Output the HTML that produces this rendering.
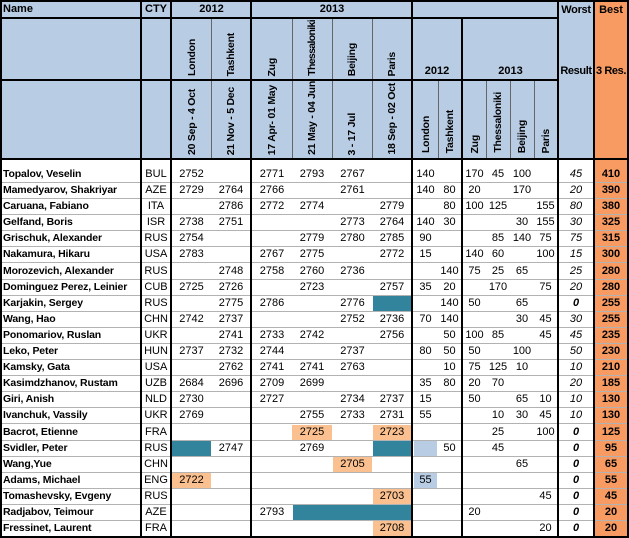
<!DOCTYPE html>
<html><head><meta charset="utf-8">
<style>
body{margin:0;background:#fff}
#w{position:relative;width:629px;height:538px;overflow:hidden;font-family:"Liberation Sans",Arial,sans-serif;font-size:11px;color:#000;background:#fff}
#w div{position:absolute}
.k{background:#000}
.g{background:#666;width:1px}
.h{font-weight:bold;text-align:center;line-height:18px;height:18px;white-space:nowrap}
.v{display:flex;align-items:flex-end;justify-content:center;font-weight:bold;font-size:10.5px;letter-spacing:-0.25px;box-sizing:border-box;padding-bottom:4px}
.v span{writing-mode:vertical-rl;transform:rotate(180deg);white-space:nowrap;line-height:12px}
.r{left:0;width:629px;height:16.1px;border-bottom:1px solid #b2b2b2;box-sizing:border-box}
.r span{position:absolute;bottom:0;height:15px;line-height:15px;text-align:center;white-space:nowrap}
.r .n{left:3px;text-align:left;font-weight:bold;font-size:10.5px;letter-spacing:-0.15px}
.cty{left:142px;width:28px}
.e0{left:172px;width:39px}
.e1{left:211px;width:40px}
.e2{left:252px;width:40px}
.e3{left:292px;width:40px}
.e4{left:333px;width:39px}
.e5{left:373px;width:38px}
.p0{left:413px;width:25px}
.p1{left:438px;width:23px}
.p2{left:463px;width:23px}
.p3{left:486px;width:24px}
.p4{left:510px;width:24px}
.p5{left:534px;width:23px}
.wr{left:559px;width:34px;font-style:italic}
.z{font-weight:bold}
.b{left:595px;width:32px;font-weight:bold}
.o{background:#fac08f}
.t{background:#31849b}
.l{background:#b8cce4}
</style></head><body>
<div id="w">
<!-- backgrounds -->
<div style="left:0;top:0;width:594px;height:159px;background:#b8cce4"></div>
<div style="left:594px;top:0;width:34px;height:537px;background:#f79b62"></div>

<!-- header text -->
<div class="h" style="left:3px;top:0;text-align:left">Name</div>
<div class="h" style="left:142px;top:0;width:28px">CTY</div>
<div class="h" style="left:172px;top:0;width:79px">2012</div>
<div class="h" style="left:252px;top:0;width:160px">2013</div>
<div class="h" style="left:559px;top:1px;width:34px;letter-spacing:-0.3px">Worst</div>
<div class="h" style="left:559px;top:62px;width:34px;letter-spacing:-0.4px">Result</div>
<div class="h" style="left:595px;top:1px;width:32px">Best</div>
<div class="h" style="left:595px;top:62px;width:32px;letter-spacing:-0.4px">3 Res.</div>
<div class="h" style="left:413px;top:62px;width:48px">2012</div>
<div class="h" style="left:463px;top:62px;width:95px">2013</div>

<!-- rotated city names row 2 -->
<div class="v" style="left:172px;top:18px;width:39px;height:62px"><span>London</span></div>
<div class="v" style="left:211px;top:18px;width:40px;height:62px"><span>Tashkent</span></div>
<div class="v" style="left:252px;top:18px;width:40px;height:62px"><span>Zug</span></div>
<div class="v" style="left:292px;top:18px;width:40px;height:62px"><span style="letter-spacing:-0.65px">Thessaloniki</span></div>
<div class="v" style="left:332px;top:18px;width:40px;height:62px"><span>Beijing</span></div>
<div class="v" style="left:372px;top:18px;width:40px;height:62px"><span>Paris</span></div>
<!-- dates row 3 -->
<div class="v" style="left:172px;top:80px;width:39px;height:79px"><span>20 Sep - 4 Oct</span></div>
<div class="v" style="left:211px;top:80px;width:40px;height:79px"><span>21 Nov - 5 Dec</span></div>
<div class="v" style="left:252px;top:80px;width:40px;height:79px"><span>17 Apr- 01 May</span></div>
<div class="v" style="left:292px;top:80px;width:40px;height:79px"><span>21 May - 04 Jun</span></div>
<div class="v" style="left:332px;top:80px;width:40px;height:79px"><span>3 - 17 Jul</span></div>
<div class="v" style="left:372px;top:80px;width:40px;height:79px"><span>18 Sep - 02 Oct</span></div>
<!-- points city names row 3 -->
<div class="v" style="left:413px;top:80px;width:25px;height:79px;padding-bottom:6px"><span>London</span></div>
<div class="v" style="left:438px;top:80px;width:23px;height:79px;padding-bottom:6px"><span>Tashkent</span></div>
<div class="v" style="left:463px;top:80px;width:23px;height:79px;padding-bottom:6px"><span>Zug</span></div>
<div class="v" style="left:486px;top:80px;width:24px;height:79px;padding-bottom:6px"><span>Thessaloniki</span></div>
<div class="v" style="left:510px;top:80px;width:24px;height:79px;padding-bottom:6px"><span>Beijing</span></div>
<div class="v" style="left:534px;top:80px;width:24px;height:79px;padding-bottom:6px"><span>Paris</span></div>

<!-- data rows -->
<div class="r" style="top:159px;height:24px"><span class="n">Topalov, Veselin</span><span class="cty">BUL</span><span class="e0">2752</span><span class="e2">2771</span><span class="e3">2793</span><span class="e4">2767</span><span class="p0">140</span><span class="p2">170</span><span class="p3">45</span><span class="p4">100</span><span class="wr">45</span><span class="b">410</span></div>
<div class="r" style="top:183px"><span class="n">Mamedyarov, Shakriyar</span><span class="cty">AZE</span><span class="e0">2729</span><span class="e1">2764</span><span class="e2">2766</span><span class="e4">2761</span><span class="p0">140</span><span class="p1">80</span><span class="p2">20</span><span class="p4">170</span><span class="wr">20</span><span class="b">390</span></div>
<div class="r" style="top:199.1px"><span class="n">Caruana, Fabiano</span><span class="cty">ITA</span><span class="e1">2786</span><span class="e2">2772</span><span class="e3">2774</span><span class="e5">2779</span><span class="p1">80</span><span class="p2">100</span><span class="p3">125</span><span class="p5">155</span><span class="wr">80</span><span class="b">380</span></div>
<div class="r" style="top:215.2px"><span class="n">Gelfand, Boris</span><span class="cty">ISR</span><span class="e0">2738</span><span class="e1">2751</span><span class="e4">2773</span><span class="e5">2764</span><span class="p0">140</span><span class="p1">30</span><span class="p4">30</span><span class="p5">155</span><span class="wr">30</span><span class="b">325</span></div>
<div class="r" style="top:231.3px"><span class="n">Grischuk, Alexander</span><span class="cty">RUS</span><span class="e0">2754</span><span class="e3">2779</span><span class="e4">2780</span><span class="e5">2785</span><span class="p0">90</span><span class="p3">85</span><span class="p4">140</span><span class="p5">75</span><span class="wr">75</span><span class="b">315</span></div>
<div class="r" style="top:247.4px"><span class="n">Nakamura, Hikaru</span><span class="cty">USA</span><span class="e0">2783</span><span class="e2">2767</span><span class="e3">2775</span><span class="e5">2772</span><span class="p0">15</span><span class="p2">140</span><span class="p3">60</span><span class="p5">100</span><span class="wr">15</span><span class="b">300</span></div>
<div class="r" style="top:263.5px"><span class="n">Morozevich, Alexander</span><span class="cty">RUS</span><span class="e1">2748</span><span class="e2">2758</span><span class="e3">2760</span><span class="e4">2736</span><span class="p1">140</span><span class="p2">75</span><span class="p3">25</span><span class="p4">65</span><span class="wr">25</span><span class="b">280</span></div>
<div class="r" style="top:279.6px"><span class="n">Dominguez Perez, Leinier</span><span class="cty">CUB</span><span class="e0">2725</span><span class="e1">2726</span><span class="e3">2723</span><span class="e5">2757</span><span class="p0">35</span><span class="p1">20</span><span class="p3">170</span><span class="p5">75</span><span class="wr">20</span><span class="b">280</span></div>
<div class="r" style="top:295.7px"><span class="n">Karjakin, Sergey</span><span class="cty">RUS</span><span class="e1">2775</span><span class="e2">2786</span><span class="e4">2776</span><span class="e5 t"></span><span class="p1">140</span><span class="p2">50</span><span class="p4">65</span><span class="wr z">0</span><span class="b">255</span></div>
<div class="r" style="top:311.8px"><span class="n">Wang, Hao</span><span class="cty">CHN</span><span class="e0">2742</span><span class="e1">2737</span><span class="e4">2752</span><span class="e5">2736</span><span class="p0">70</span><span class="p1">140</span><span class="p4">30</span><span class="p5">45</span><span class="wr">30</span><span class="b">255</span></div>
<div class="r" style="top:327.9px"><span class="n">Ponomariov, Ruslan</span><span class="cty">UKR</span><span class="e1">2741</span><span class="e2">2733</span><span class="e3">2742</span><span class="e5">2756</span><span class="p1">50</span><span class="p2">100</span><span class="p3">85</span><span class="p5">45</span><span class="wr">45</span><span class="b">235</span></div>
<div class="r" style="top:344px"><span class="n">Leko, Peter</span><span class="cty">HUN</span><span class="e0">2737</span><span class="e1">2732</span><span class="e2">2744</span><span class="e4">2737</span><span class="p0">80</span><span class="p1">50</span><span class="p2">50</span><span class="p4">100</span><span class="wr">50</span><span class="b">230</span></div>
<div class="r" style="top:360.1px"><span class="n">Kamsky, Gata</span><span class="cty">USA</span><span class="e1">2762</span><span class="e2">2741</span><span class="e3">2741</span><span class="e4">2763</span><span class="p1">10</span><span class="p2">75</span><span class="p3">125</span><span class="p4">10</span><span class="wr">10</span><span class="b">210</span></div>
<div class="r" style="top:376.2px"><span class="n">Kasimdzhanov, Rustam</span><span class="cty">UZB</span><span class="e0">2684</span><span class="e1">2696</span><span class="e2">2709</span><span class="e3">2699</span><span class="p0">35</span><span class="p1">80</span><span class="p2">20</span><span class="p3">70</span><span class="wr">20</span><span class="b">185</span></div>
<div class="r" style="top:392.3px"><span class="n">Giri, Anish</span><span class="cty">NLD</span><span class="e0">2730</span><span class="e2">2727</span><span class="e4">2734</span><span class="e5">2737</span><span class="p0">15</span><span class="p2">50</span><span class="p4">65</span><span class="p5">10</span><span class="wr">10</span><span class="b">130</span></div>
<div class="r" style="top:408.4px"><span class="n">Ivanchuk, Vassily</span><span class="cty">UKR</span><span class="e0">2769</span><span class="e3">2755</span><span class="e4">2733</span><span class="e5">2731</span><span class="p0">55</span><span class="p3">10</span><span class="p4">30</span><span class="p5">45</span><span class="wr">10</span><span class="b">130</span></div>
<div class="r" style="top:424.5px"><span class="n">Bacrot, Etienne</span><span class="cty">FRA</span><span class="e3 o">2725</span><span class="e5 o">2723</span><span class="p3">25</span><span class="p5">100</span><span class="wr z">0</span><span class="b">125</span></div>
<div class="r" style="top:440.6px"><span class="n">Svidler, Peter</span><span class="cty">RUS</span><span class="e0 t"></span><span class="e1">2747</span><span class="e3">2769</span><span class="e5 t"></span><span class="l" style="left:414px;width:23px"></span><span class="p1">50</span><span class="p3">45</span><span class="wr z">0</span><span class="b">95</span></div>
<div class="r" style="top:456.7px"><span class="n">Wang,Yue</span><span class="cty">CHN</span><span class="e4 o">2705</span><span class="p4">65</span><span class="wr z">0</span><span class="b">65</span></div>
<div class="r" style="top:472.8px"><span class="n">Adams, Michael</span><span class="cty">ENG</span><span class="e0 o">2722</span><span class="l" style="left:414px;width:23px">55</span><span class="wr z">0</span><span class="b">55</span></div>
<div class="r" style="top:488.9px"><span class="n">Tomashevsky, Evgeny</span><span class="cty">RUS</span><span class="e5 o">2703</span><span class="p5">45</span><span class="wr z">0</span><span class="b">45</span></div>
<div class="r" style="top:505px"><span class="n">Radjabov, Teimour</span><span class="cty">AZE</span><span class="e2">2793</span><span class="t" style="left:293px;width:118px"></span><span class="p2">20</span><span class="wr z">0</span><span class="b">20</span></div>
<div class="r" style="top:521.1px"><span class="n">Fressinet, Laurent</span><span class="cty">FRA</span><span class="e5 o">2708</span><span class="p5">20</span><span class="wr z">0</span><span class="b">20</span></div>

<!-- gray header lines -->
<div class="g" style="left:211px;top:18px;height:141px"></div>
<div class="g" style="left:292px;top:18px;height:141px"></div>
<div class="g" style="left:332px;top:18px;height:141px"></div>
<div class="g" style="left:372px;top:18px;height:141px"></div>
<div class="g" style="left:438px;top:80px;height:79px"></div>
<div class="g" style="left:486px;top:80px;height:79px"></div>
<div class="g" style="left:510px;top:80px;height:79px"></div>
<div class="g" style="left:534px;top:80px;height:79px"></div>

<!-- black lines -->
<div class="k" style="left:0;top:0;width:629px;height:2px"></div>
<div class="k" style="left:0;top:17px;width:558px;height:2px"></div>
<div class="k" style="left:0;top:79px;width:558px;height:2px"></div>
<div class="k" style="left:0;top:158px;width:629px;height:2px"></div>
<div class="k" style="left:0;top:536px;width:629px;height:2px"></div>
<div class="k" style="left:0;top:0;width:2px;height:538px"></div>
<div class="k" style="left:140px;top:0;width:2px;height:538px"></div>
<div class="k" style="left:170px;top:0;width:2px;height:538px"></div>
<div class="k" style="left:250px;top:0;width:2px;height:538px"></div>
<div class="k" style="left:411px;top:0;width:2px;height:538px"></div>
<div class="k" style="left:461px;top:17px;width:2px;height:521px"></div>
<div class="k" style="left:557px;top:0;width:2px;height:538px"></div>
<div class="k" style="left:593px;top:0;width:2px;height:538px"></div>
<div class="k" style="left:627px;top:0;width:2px;height:538px"></div>
</div>
</body></html>
